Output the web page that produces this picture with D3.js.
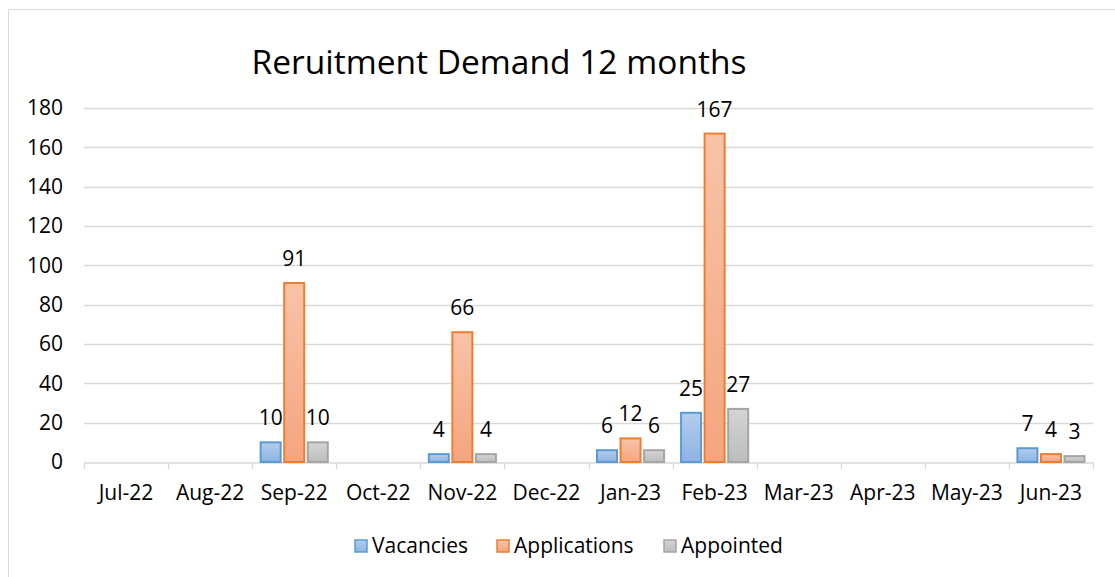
<!DOCTYPE html>
<html lang="en">
<head>
	<meta charset="UTF-8">
	<title>Reruitment Demand 12 months</title>
	<script src="https://cdn.jsdelivr.net/npm/d3@7"></script>
	<style>
		body { margin: 0; background: #fff; }
		svg text { font-family: "Open Sans", "Noto Sans", sans-serif; fill: #000; }
	</style>
</head>
<body>
<svg id="chart" width="1115" height="577"></svg>
<script>

const months = ['Jul-22','Aug-22','Sep-22','Oct-22','Nov-22','Dec-22','Jan-23','Feb-23','Mar-23','Apr-23','May-23','Jun-23'];
const seriesNames = ['Vacancies','Applications','Appointed'];
const vacancies    = [null, null, 10, null, 4, null, 6, 25, null, null, null, 7];
const applications = [null, null, 91, null, 66, null, 12, 167, null, null, null, 4];
const appointed    = [null, null, 10, null, 4, null, 6, 27, null, null, null, 3];
const yTicks = [0, 20, 40, 60, 80, 100, 120, 140, 160, 180];

const colors = {
	Vacancies:    {top: '#b4cdec', bottom: '#8db3e2', stroke: '#5b9bd5'},
	Applications: {top: '#f8c3a8', bottom: '#f4a57f', stroke: '#ed7d31'},
	Appointed:    {top: '#d4d4d4', bottom: '#bdbdbd', stroke: '#a5a5a5'}
};

const svg = d3.select('#chart');

// chart frame
svg.append('rect')
	.attr('x', 8.5).attr('y', 9.5)
	.attr('width', 1120).attr('height', 580)
	.attr('fill', 'none').attr('stroke', '#d9d9d9');

const defs = svg.append('defs');
seriesNames.forEach(name => {
	const g = defs.append('linearGradient')
		.attr('id', 'grad-' + name).attr('x1', 0).attr('y1', 0).attr('x2', 0).attr('y2', 1);
	g.append('stop').attr('offset', '0%').attr('stop-color', colors[name].top);
	g.append('stop').attr('offset', '100%').attr('stop-color', colors[name].bottom);
});

const x = d3.scaleBand().domain(months).range([84, 1093]).paddingInner(0).paddingOuter(0);
const y = d3.scaleLinear().domain([0, 180]).range([462, 108]);
const x1 = d3.scaleBand().domain(seriesNames).range([0, x.bandwidth()]).paddingInner(0.15).paddingOuter(0.36);

// title
svg.append('text')
	.attr('x', 499).attr('y', 74)
	.attr('text-anchor', 'middle')
	.style('font-size', '33.5px')
	.text('Reruitment Demand 12 months');

// gridlines
svg.append('g')
	.selectAll('line')
	.data(yTicks.filter(d => d > 0))
	.join('line')
	.attr('x1', 84).attr('x2', 1093)
	.attr('y1', d => Math.round(y(d)) + 0.5).attr('y2', d => Math.round(y(d)) + 0.5)
	.attr('stroke', '#d9d9d9').attr('stroke-width', 1.3);

// y axis labels
svg.append('g')
	.selectAll('text')
	.data(yTicks)
	.join('text')
	.attr('x', 63).attr('y', d => y(d))
	.attr('dy', '0.35em')
	.attr('text-anchor', 'end')
	.style('font-size', '21px')
	.text(d => d);

// x axis
const xAxis = svg.append('g')
	.attr('transform', `translate(0,${462.5})`)
	.call(d3.axisBottom(x).tickSize(0).tickFormat(''));
xAxis.select('.domain').attr('stroke', '#d9d9d9').attr('stroke-width', 1.3);
svg.append('g')
	.selectAll('line')
	.data(months.map(m => x(m)).concat([x(months[months.length - 1]) + x.bandwidth()]))
	.join('line')
	.attr('x1', d => Math.round(d) + 0.5).attr('x2', d => Math.round(d) + 0.5)
	.attr('y1', 462).attr('y2', 469)
	.attr('stroke', '#d9d9d9').attr('stroke-width', 1.3);
svg.append('g')
	.selectAll('text')
	.data(months)
	.join('text')
	.attr('x', d => x(d) + x.bandwidth() / 2)
	.attr('y', 500)
	.attr('text-anchor', 'middle')
	.style('font-size', '21px')
	.text(d => d);

// bars
const seriesData = {Vacancies: vacancies, Applications: applications, Appointed: appointed};
const rows = [];
months.forEach((m, i) => {
	seriesNames.forEach(s => {
		const v = seriesData[s][i];
		if (v != null) rows.push({month: m, series: s, value: v});
	});
});

svg.append('g')
	.selectAll('rect')
	.data(rows)
	.join('rect')
	.attr('x', d => x(d.month) + x1(d.series))
	.attr('y', d => y(d.value))
	.attr('width', x1.bandwidth())
	.attr('height', d => y(0) - y(d.value))
	.attr('fill', d => `url(#grad-${d.series})`)
	.attr('stroke', d => colors[d.series].stroke)
	.attr('stroke-width', 2);

svg.append('g')
	.selectAll('text')
	.data(rows)
	.join('text')
	.attr('x', d => x(d.month) + x1(d.series) + x1.bandwidth() / 2)
	.attr('y', d => y(d.value) - 17)
	.attr('text-anchor', 'middle')
	.style('font-size', '21px')
	.text(d => d.value);

// legend
const legendX = [355, 497, 664];
const legend = svg.append('g');
seriesNames.forEach((s, i) => {
	legend.append('rect')
		.attr('x', legendX[i]).attr('y', 540)
		.attr('width', 12).attr('height', 12)
		.attr('fill', `url(#grad-${s})`)
		.attr('stroke', colors[s].stroke).attr('stroke-width', 1.5);
	legend.append('text')
		.attr('x', legendX[i] + 17).attr('y', 553)
		.style('font-size', '21px')
		.text(s);
});

</script>
</body>
</html>
